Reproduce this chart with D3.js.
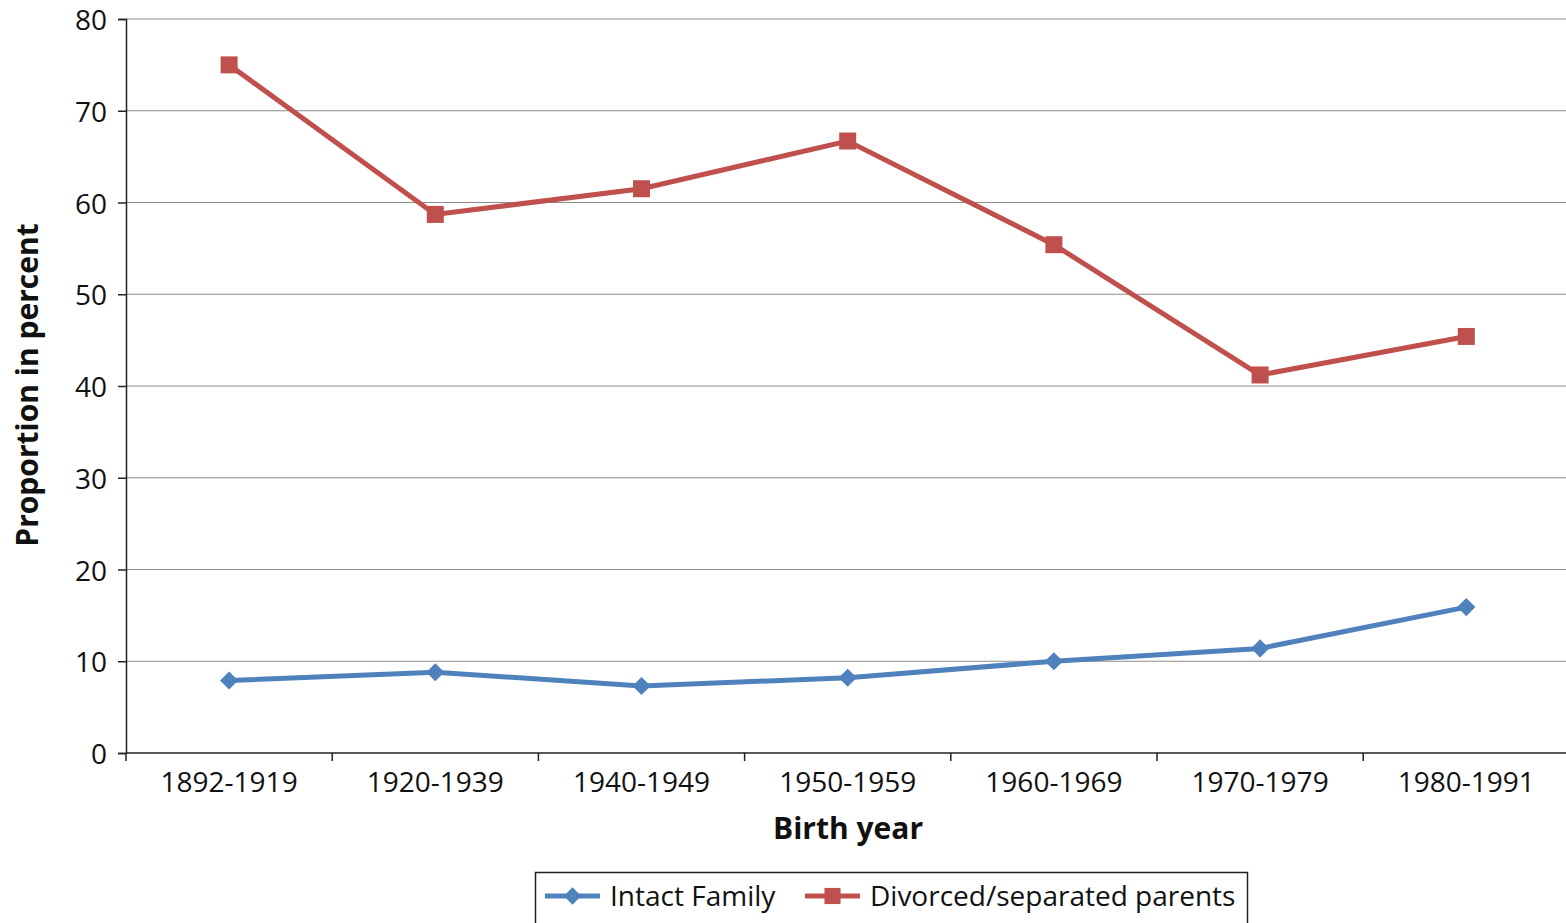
<!DOCTYPE html>
<html>
<head>
<meta charset="utf-8">
<script src="https://cdn.jsdelivr.net/npm/d3@7"></script>
<style>
body { margin: 0; background: white; }
svg { display: block; }
svg text { font-family: "Open Sans", "Liberation Sans", sans-serif; }
</style>
</head>
<body>
<svg id="chart" width="1566" height="923"></svg>
<script>
// birth cohorts on the x axis
var cohorts = ["1892-1919", "1920-1939", "1940-1949", "1950-1959", "1960-1969", "1970-1979", "1980-1991"];
var intact = [7.9, 8.8, 7.3, 8.2, 10.0, 11.4, 15.9];
var divorced = [75.0, 58.7, 61.5, 66.7, 55.4, 41.2, 45.4];
var yTicks = [0, 10, 20, 30, 40, 50, 60, 70, 80];

var blue = "#4F81BD";
var red = "#C0504D";

var svg = d3.select("#chart");
// plot edges (named so they don't clash with window.top)
var plotL = 126, plotR = 1566, plotT = 19, plotB = 753;

// the last band runs a little past the right edge of the picture
var x = d3.scaleBand().domain(cohorts).range([plotL, plotL + 7 * 206.2]);
var y = d3.scaleLinear().domain([0, 80]).range([plotB, plotT]);

// grid lines
svg.append("g").selectAll("line").data(yTicks.slice(1)).enter().append("line")
    .attr("x1", plotL).attr("x2", plotR)
    .attr("y1", function(d) { return y(d); }).attr("y2", function(d) { return y(d); })
    .attr("stroke", "#8c8c8c").attr("stroke-width", 1.2);

var yAxis = svg.append("g").attr("transform", "translate(" + plotL + ",0)")
    .call(d3.axisLeft(y).tickValues(yTicks).tickSize(8).tickPadding(11));
yAxis.select(".domain").attr("stroke", "#222").attr("stroke-width", 1.5);
yAxis.selectAll(".tick line").attr("stroke", "#222").attr("stroke-width", 1.5);
yAxis.selectAll("text").attr("font-size", 28).attr("fill", "#111").attr("dy", "0.38em");

var xAxis = svg.append("g").attr("transform", "translate(0," + plotB + ")")
    .call(d3.axisBottom(x).tickSize(0).tickPadding(19));
xAxis.select(".domain").remove();
xAxis.selectAll("text").attr("font-size", 28).attr("fill", "#111");
svg.append("line").attr("x1", plotL).attr("x2", plotR).attr("y1", plotB).attr("y2", plotB)
    .attr("stroke", "#222").attr("stroke-width", 1.5);
// category separators
svg.append("g").selectAll("line").data(cohorts).enter().append("line")
    .attr("x1", function(d) { return x(d); }).attr("x2", function(d) { return x(d); })
    .attr("y1", plotB).attr("y2", plotB + 8)
    .attr("stroke", "#222").attr("stroke-width", 1.5);

var line = d3.line()
    .x(function(d, i) { return x(cohorts[i]) + x.bandwidth() / 2; })
    .y(function(d) { return y(d); });

// diamonds are squares turned by 45 degrees
function series(values, color, angle, size) {
    svg.append("path").datum(values).attr("d", line)
        .attr("fill", "none").attr("stroke", color).attr("stroke-width", 5);
    svg.append("g").selectAll("path").data(values).enter().append("path")
        .attr("d", d3.symbol().type(d3.symbolSquare).size(size))
        .attr("transform", function(d, i) {
            return "translate(" + (x(cohorts[i]) + x.bandwidth() / 2) + "," + y(d) + ") rotate(" + angle + ")";
        })
        .attr("fill", color);
}
series(intact, blue, 45, 165);
series(divorced, red, 0, 289);

svg.append("text").attr("x", 848).attr("y", 839).attr("text-anchor", "middle")
    .attr("font-size", 30).attr("font-weight", "bold").attr("fill", "#111").text("Birth year");
svg.append("text").attr("transform", "translate(38,385) rotate(-90)").attr("text-anchor", "middle")
    .attr("font-size", 30).attr("font-weight", "bold").attr("fill", "#111").text("Proportion in percent");

// legend
var lg = svg.append("g");
lg.append("rect").attr("x", 535.5).attr("y", 872.5).attr("width", 712).attr("height", 60)
    .attr("fill", "white").attr("stroke", "#222").attr("stroke-width", 1.5);
var items = [
    {name: "Intact Family", color: blue, angle: 45, size: 150, x: 545},
    {name: "Divorced/separated parents", color: red, angle: 0, size: 260, x: 805}
];
items.forEach(function(it) {
    lg.append("line").attr("x1", it.x).attr("x2", it.x + 55).attr("y1", 896).attr("y2", 896)
        .attr("stroke", it.color).attr("stroke-width", 5);
    lg.append("path").attr("d", d3.symbol().type(d3.symbolSquare).size(it.size)())
        .attr("transform", "translate(" + (it.x + 27.5) + ",896) rotate(" + it.angle + ")").attr("fill", it.color);
    lg.append("text").attr("x", it.x + 65).attr("y", 906).attr("font-size", 28).attr("fill", "#111").text(it.name);
});
</script>
</body>
</html>
